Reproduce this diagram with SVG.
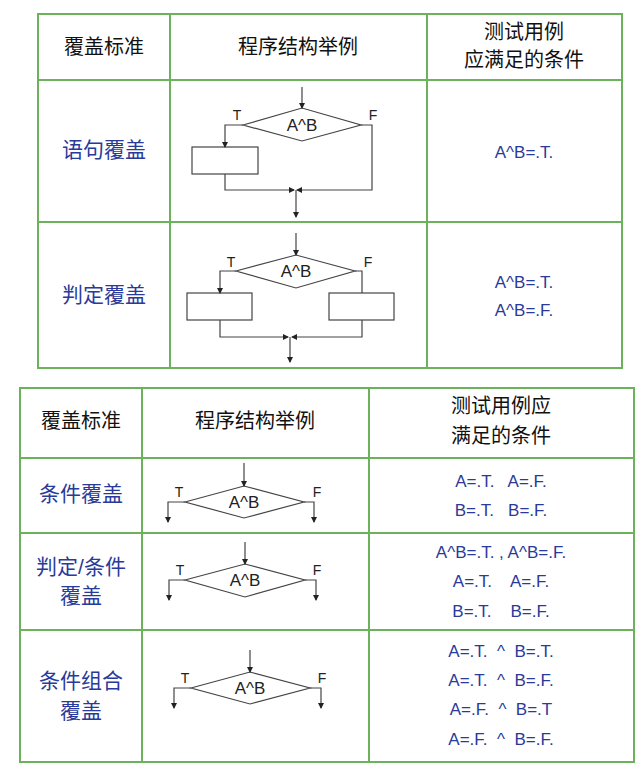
<svg xmlns="http://www.w3.org/2000/svg" width="643" height="771" viewBox="0 0 643 771">
<style>
text{white-space:pre}
.g{fill:none;stroke:#6cb25a;stroke-width:2}
.l{fill:none;stroke:#444;stroke-width:1.2}
.h{font-family:"Liberation Sans","Noto Sans CJK SC",sans-serif;font-size:20px;fill:#111;text-anchor:middle}
.b{font-family:"Liberation Sans","Noto Sans CJK SC",sans-serif;font-size:21px;fill:#2a3a9a;text-anchor:middle}
.v{font-family:"Liberation Sans","Noto Sans CJK SC",sans-serif;font-size:17px;fill:#2a3a9a;text-anchor:middle}
.f{font-family:"Liberation Sans",sans-serif;font-size:17px;fill:#222;text-anchor:middle}
.t{font-family:"Liberation Sans",sans-serif;font-size:14px;fill:#222;text-anchor:middle}
</style>
<defs><marker id="a" markerWidth="6" markerHeight="6" refX="5" refY="3" orient="auto" markerUnits="userSpaceOnUse"><path d="M0,0L6,3L0,6z" fill="#222"/></marker></defs>
<rect width="643" height="771" fill="#fff"/>
<g id="table1">
<rect class="g" x="38" y="14" width="584" height="354"/>
<path class="g" d="M38,80H622M38,222H622M170,14V368M427,14V368"/>
<text class="h" x="104" y="54">覆盖标准</text>
<text class="h" x="298" y="54">程序结构举例</text>
<text class="h" x="524" y="39">测试用例</text>
<text class="h" x="524" y="67">应满足的条件</text>
</g>
<g id="row1"><text class="b" x="104" y="157">语句覆盖</text><text class="v" x="524" y="158">A^B=.T.</text></g>
<g id="row2"><text class="b" x="104" y="302">判定覆盖</text><text class="v" x="524" y="288">A^B=.T.</text><text class="v" x="524" y="316">A^B=.F.</text></g>
<g id="fc1">
<polygon class="l" points="243,125 302,108 361,125 302,141"/>
<text class="f" x="302" y="131">A^B</text>
<rect class="l" x="192" y="147" width="66" height="27"/>
<text class="t" x="237" y="120">T</text><text class="t" x="373" y="120">F</text>
</g>
<g id="fc2">
<polygon class="l" points="236,271 296,255 355,271 296,288"/>
<text class="f" x="296" y="277">A^B</text>
<rect class="l" x="187" y="293" width="65" height="27"/>
<rect class="l" x="329" y="293" width="65" height="27"/>
<text class="t" x="231" y="267">T</text><text class="t" x="368" y="267">F</text>
</g>
<g id="table2">
<rect class="g" x="20" y="388" width="614" height="374"/>
<path class="g" d="M20,458H634M20,533H634M20,630H634M142,388V762M369,388V762"/>
<text class="h" x="81" y="428">覆盖标准</text>
<text class="h" x="255" y="428">程序结构举例</text>
<text class="h" x="501" y="413">测试用例应</text>
<text class="h" x="501" y="443">满足的条件</text>
</g>
<g id="row3"><text class="b" x="81" y="501">条件覆盖</text><text class="v" x="501" y="487">A=.T.   A=.F.</text><text class="v" x="501" y="516">B=.T.   B=.F.</text></g>
<g id="row4"><text class="b" x="81" y="574">判定/条件</text><text class="b" x="81" y="603">覆盖</text>
<text class="v" x="501" y="558">A^B=.T. , A^B=.F.</text><text class="v" x="501" y="587">A=.T.    A=.F.</text><text class="v" x="501" y="617">B=.T.    B=.F.</text></g>
<g id="row5"><text class="b" x="81" y="688">条件组合</text><text class="b" x="81" y="718">覆盖</text>
<text class="v" x="501" y="657">A=.T.  ^  B=.T.</text><text class="v" x="501" y="686">A=.T.  ^  B=.F.</text><text class="v" x="501" y="715">A=.F.  ^  B=.T</text><text class="v" x="501" y="745">A=.F.  ^  B=.F.</text></g>
<g id="fc3"><polygon class="l" points="185,502 244,486 304,502 244,518"/><text class="f" x="244" y="508">A^B</text><text class="t" x="179" y="497">T</text><text class="t" x="317" y="497">F</text></g>
<g id="fc4"><polygon class="l" points="185,580 245,564 305,580 245,597"/><text class="f" x="245" y="586">A^B</text><text class="t" x="180" y="575">T</text><text class="t" x="317" y="575">F</text></g>
<g id="fc5"><polygon class="l" points="191,688 250,672 310,688 250,704"/><text class="f" x="250" y="694">A^B</text><text class="t" x="185" y="683">T</text><text class="t" x="322" y="683">F</text></g>
<g id="connectors" class="l" marker-end="url(#a)">
<path d="M302,87V108"/><path d="M243,125H225V147"/><path d="M225,174V190H294"/><path d="M361,125H372V190H297"/><path d="M296,190V217"/>
<path d="M296,233V255"/><path d="M236,271H220V293"/><path d="M355,271H362V293" marker-end="none"/><path d="M220,320V337H288"/><path d="M362,320V337H292"/><path d="M290,337V362"/>
<path d="M244,463V486"/><path d="M185,502H168V522"/><path d="M304,502H314V522"/>
<path d="M245,542V564"/><path d="M185,580H169V600"/><path d="M305,580H316V600"/>
<path d="M250,650V672"/><path d="M191,688H174V708"/><path d="M310,688H321V708"/>
</g>
</svg>
